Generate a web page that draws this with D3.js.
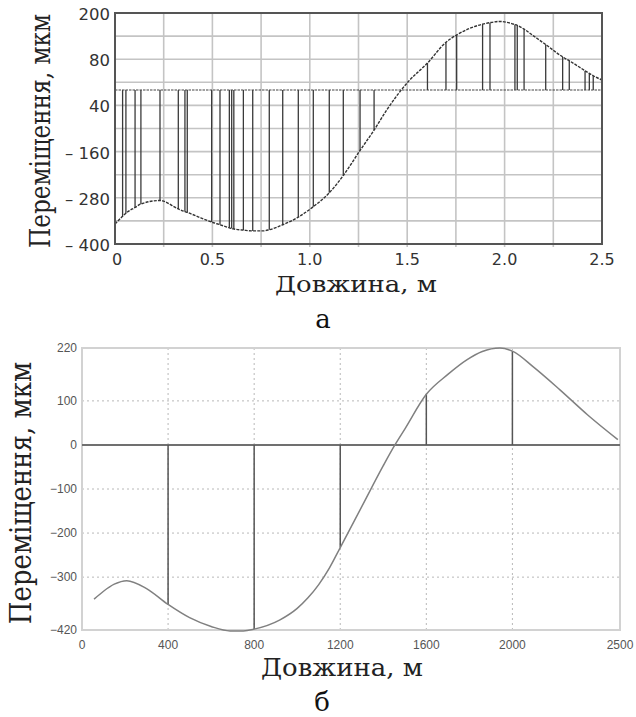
<!DOCTYPE html>
<html><head><meta charset="utf-8">
<script src="https://cdn.jsdelivr.net/npm/d3@7"></script>
<style>body{margin:0;background:#fff}svg{display:block}</style>
</head><body>
<script>
// ---------- Chart (a) data ----------
const aCurveX = [0,0.039,0.056,0.103,0.133,0.231,0.325,0.359,0.371,0.44,0.496,0.539,0.587,0.599,0.610,0.659,0.707,0.76,0.792,0.861,0.941,1.018,1.100,1.172,1.258,1.330,1.395,1.454,1.506,1.604,1.699,1.754,1.82,1.887,1.925,1.976,2.053,2.065,2.100,2.150,2.211,2.298,2.332,2.413,2.435,2.455,2.5];
const aCurveY = [-348,-328,-320,-305,-296,-287,-309,-316,-318,-332,-343,-350,-358,-360,-361,-364,-366,-366,-363,-350,-330,-303,-267,-222,-157,-104,-52,-10,22,70,124,143,160,171,175,178,170,168,158,140,118,86,76,50,43,37,26];
const aHatchX = [0.039,0.056,0.103,0.133,0.231,0.325,0.359,0.371,0.496,0.539,0.587,0.599,0.610,0.659,0.707,0.792,0.861,0.941,1.018,1.100,1.172,1.258,1.330,1.604,1.699,1.754,1.887,1.925,2.053,2.065,2.100,2.211,2.298,2.332,2.413,2.435,2.455];
const aHatchY = [-328,-320,-305,-296,-287,-309,-316,-318,-343,-350,-358,-360,-361,-364,-366,-363,-350,-330,-303,-267,-222,-157,-104,70,124,143,171,175,170,168,158,118,86,76,50,43,37];
const aXTicks = [0,0.5,1.0,1.5,2.0,2.5];
const aXTickLabels = ["0","0.5","1.0","1.5","2.0","2.5"];
const aYTicks = [200,80,-40,-160,-280,-400];
const aYTickLabels = ["200","80","40","– 160","– 280","– 400"];
const aXGrid = [0.25,0.5,0.75,1.0,1.25,1.5,1.75,2.0,2.25];
const aYGrid = [140,80,20,-40,-100,-160,-220,-280,-340];

// ---------- Chart (б) data ----------
const bCurveX = [56,100,150,208,300,400,500,600,688,750,800,920,1000,1050,1100,1150,1200,1300,1400,1454,1500,1600,1700,1788,1860,1942,2000,2100,2221,2350,2490];
const bCurveY = [-350,-332,-316,-308,-326,-362,-392,-412,-422,-422,-418,-397,-371,-347,-317,-279,-233,-140,-47,0,36,115,160,193,212,220,213,176,125,68,12];
const bHatchX = [400,800,1200,1600,2000];
const bHatchY = [-362,-418,-233,115,213];
const bXTicks = [0,400,800,1200,1600,2000,2500];
const bXTickLabels = ["0","400","800","1200","1600","2000","2500"];
const bYTicks = [220,100,0,-100,-200,-300,-420];
const bYTickLabels = ["220","100","0","−100","−200","−300","−420"];
const bXGrid = [400,800,1200,1600,2000];
const bYGrid = [100,-100,-200,-300];

const W = 636, H = 717;
const svg = d3.select("body").append("svg").attr("width", W).attr("height", H);
const serif = "'DejaVu Serif','Liberation Serif',serif";
const sans = "'DejaVu Sans',Verdana,sans-serif";
const sans2 = "'Liberation Sans',Arial,sans-serif";

// ===== Chart (a) =====
const ax = d3.scaleLinear().domain([0,2.5]).range([115,602]);
const ay = d3.scaleLinear().domain([-400,200]).range([244,13]);
const ga = svg.append("g");
ga.selectAll(".vg").data(aXGrid).join("line")
  .attr("x1", d=>ax(d)).attr("x2", d=>ax(d)).attr("y1", ay(200)).attr("y2", ay(-400)+3)
  .attr("stroke","#c4c4c4").attr("stroke-width",1.6);
ga.selectAll(".hg").data(aYGrid).join("line")
  .attr("x1", ax(0)).attr("x2", ax(2.5)).attr("y1", d=>ay(d)).attr("y2", d=>ay(d))
  .attr("stroke","#c4c4c4").attr("stroke-width",1.6);
ga.selectAll(".hatch").data(aHatchX).join("line")
  .attr("x1", d=>ax(d)).attr("x2", d=>ax(d))
  .attr("y1", ay(0)).attr("y2", (d,i)=>ay(aHatchY[i]))
  .attr("stroke","#3a3a3a").attr("stroke-width",1.3);
ga.append("line").attr("x1",ax(0)).attr("x2",ax(2.5)).attr("y1",ay(0)).attr("y2",ay(0))
  .attr("stroke","#444").attr("stroke-width",1.2).attr("stroke-dasharray","2.5,1");
const aLine = d3.line().x((d,i)=>ax(aCurveX[i])).y((d,i)=>ay(aCurveY[i])).curve(d3.curveMonotoneX);
ga.append("path").attr("d", aLine(aCurveX)).attr("fill","none")
  .attr("stroke","#333").attr("stroke-width",1.4).attr("stroke-dasharray","3,1.2");
ga.append("rect").attr("x",ax(0)).attr("y",ay(200)).attr("width",ax(2.5)-ax(0)).attr("height",ay(-400)-ay(200))
  .attr("fill","none").attr("stroke","#555").attr("stroke-width",2);
ga.selectAll(".xt").data(aXTicks).join("text")
  .attr("x", d=>ax(d)+(d===0?2:0)).attr("y", 265).attr("text-anchor","middle")
  .attr("font-family",sans).attr("font-size",16).attr("fill","#333")
  .text((d,i)=>aXTickLabels[i]);
ga.selectAll(".yt").data(aYTicks).join("text")
  .attr("x", 110).attr("y", d=>ay(d)+7).attr("text-anchor","end")
  .attr("font-family",sans).attr("font-size",16.5).attr("fill","#333")
  .text((d,i)=>aYTickLabels[i]);
ga.append("text").attr("transform","translate(50,131) rotate(-90) scale(1,1.18)").attr("text-anchor","middle")
  .attr("font-family",serif).attr("font-size",23.2).attr("fill","#222")
  .text("Переміщення, мкм");
ga.append("text").attr("x",356).attr("y",292).attr("text-anchor","middle")
  .attr("font-family",serif).attr("font-size",23).attr("fill","#222")
  .attr("textLength",162).attr("lengthAdjust","spacingAndGlyphs").text("Довжина, м");
ga.append("text").attr("x",323).attr("y",328).attr("text-anchor","middle")
  .attr("font-family",serif).attr("font-size",26).attr("fill","#111").text("а");

// ===== Chart (б) =====
const bx = d3.scaleLinear().domain([0,2500]).range([82,620]);
const by = d3.scaleLinear().domain([-420,220]).range([630,348]);
const gb = svg.append("g");
gb.selectAll(".vg").data(bXGrid).join("line")
  .attr("x1", d=>bx(d)).attr("x2", d=>bx(d)).attr("y1", by(220)).attr("y2", by(-420))
  .attr("stroke","#b8b8b8").attr("stroke-width",1).attr("stroke-dasharray","2,3");
gb.selectAll(".hg").data(bYGrid).join("line")
  .attr("x1", bx(0)).attr("x2", bx(2500)).attr("y1", d=>by(d)).attr("y2", d=>by(d))
  .attr("stroke","#b8b8b8").attr("stroke-width",1).attr("stroke-dasharray","2,3");
gb.append("rect").attr("x",bx(0)).attr("y",by(220)).attr("width",bx(2500)-bx(0)).attr("height",by(-420)-by(220))
  .attr("fill","none").attr("stroke","#d2d2d2").attr("stroke-width",2);
gb.append("line").attr("x1",bx(0)).attr("x2",bx(2500)).attr("y1",by(0)).attr("y2",by(0))
  .attr("stroke","#707070").attr("stroke-width",2);
gb.selectAll(".hatch").data(bHatchX).join("line")
  .attr("x1", d=>bx(d)).attr("x2", d=>bx(d))
  .attr("y1", by(0)).attr("y2", (d,i)=>by(bHatchY[i]))
  .attr("stroke","#555").attr("stroke-width",1.5);
const bLine = d3.line().x((d,i)=>bx(bCurveX[i])).y((d,i)=>by(bCurveY[i])).curve(d3.curveMonotoneX);
gb.append("path").attr("d", bLine(bCurveX)).attr("fill","none")
  .attr("stroke","#808080").attr("stroke-width",1.5);
gb.selectAll(".xt").data(bXTicks).join("text")
  .attr("x", d=>bx(d)).attr("y", 649).attr("text-anchor","middle")
  .attr("font-family",sans2).attr("font-size",12).attr("fill","#555")
  .text((d,i)=>bXTickLabels[i]);
gb.selectAll(".yt").data(bYTicks).join("text")
  .attr("x", 77).attr("y", d=>by(d)+4).attr("text-anchor","end")
  .attr("font-family",sans2).attr("font-size",12).attr("fill","#555")
  .text((d,i)=>bYTickLabels[i]);
gb.append("text").attr("transform","translate(31,493) rotate(-90) scale(1,1.17)").attr("text-anchor","middle")
  .attr("font-family",serif).attr("font-size",26).attr("fill","#222")
  .text("Переміщення, мкм");
gb.append("text").attr("x",342).attr("y",676).attr("text-anchor","middle")
  .attr("font-family",serif).attr("font-size",25).attr("fill","#222")
  .attr("textLength",162).attr("lengthAdjust","spacingAndGlyphs").text("Довжина, м");
gb.append("text").attr("x",322).attr("y",711).attr("text-anchor","middle")
  .attr("font-family",serif).attr("font-size",26).attr("fill","#111").text("б");
</script>
</body></html>
